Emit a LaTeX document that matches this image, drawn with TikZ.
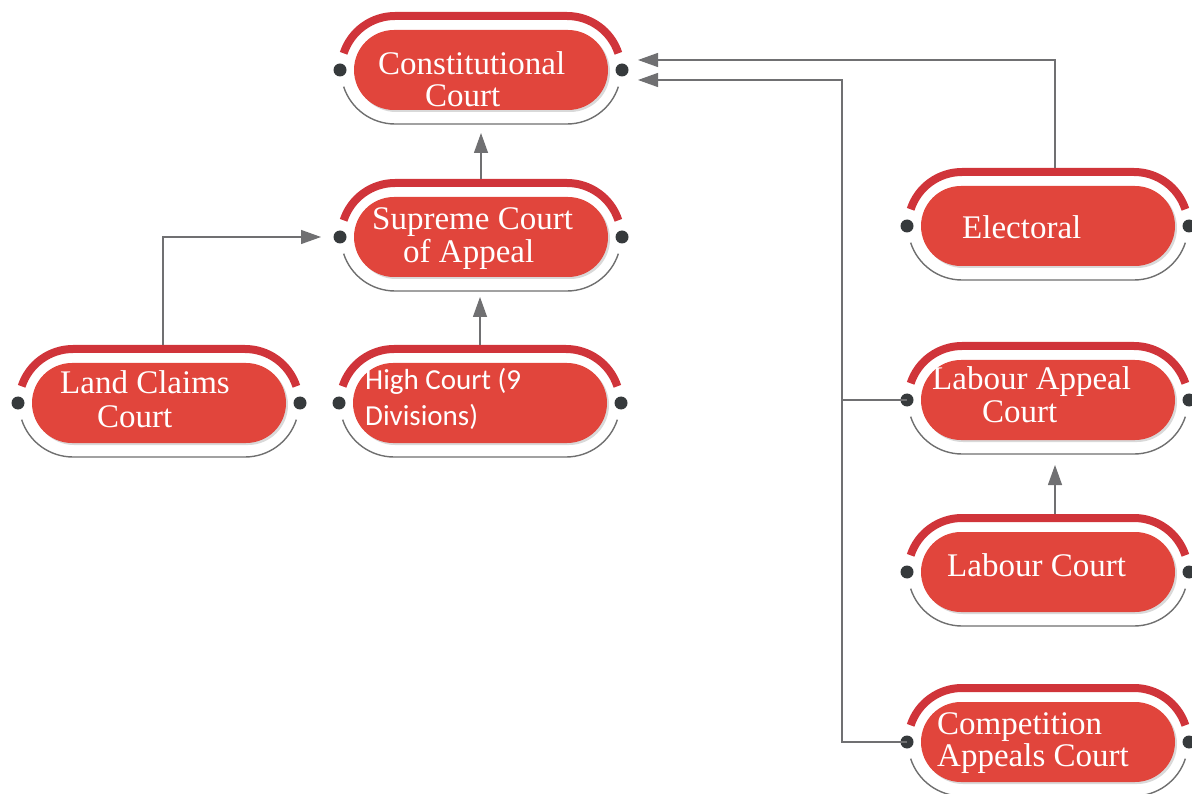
\documentclass[tikz,border=0pt]{standalone}
\usepackage{fontspec}
\setmainfont{Liberation Serif}
\newfontfamily\calib{Carlito}
\usetikzlibrary{arrows.meta,shapes.misc}
\definecolor{bandred}{HTML}{D0343A}
\definecolor{pillred}{HTML}{E1453C}
\definecolor{dotgray}{HTML}{363A3C}
\definecolor{rimgray}{HTML}{6F6F6F}
\definecolor{linegray}{HTML}{707072}
\tikzset{
 band/.style={draw=bandred, line width=8pt},
 rim/.style={draw=rimgray, line width=1.4pt},
 pill/.style={rounded rectangle, fill=pillred, minimum width=254pt, minimum height=80pt, inner sep=0pt, draw=none},
 pillshadow/.style={rounded rectangle, fill=black!15, minimum width=254pt, minimum height=80pt, inner sep=0pt, draw=none},
 conn/.style={draw=linegray, line width=1.3pt},
 arr/.style={conn, -{Triangle[length=20pt,width=14pt]}},
 lbl/.style={text=white, font=\fontsize{33}{33}\selectfont, inner sep=0pt, anchor=base west},
 lblsans/.style={lbl, font=\calib\fontsize{29}{29}\selectfont},
}
\newcommand\courtbox[3]{%
 \begin{scope}[shift={(#2,-#3)}]
  \draw[band] (-86,0) ++(162:54) arc[start angle=162,end angle=90,radius=54] -- (86,54) arc[start angle=90,end angle=18,radius=54];
  \draw[rim] (-86,0) ++(198:54) arc[start angle=198,end angle=270,radius=54] -- (86,-54) arc[start angle=270,end angle=342,radius=54];
  \node[pillshadow] (#1-sh) at (2,-2) {};
  \node[pill] (#1) at (0,0) {};
  \fill[dotgray] (-141,0) circle[radius=6.5];
  \fill[dotgray] (141,0) circle[radius=6.5];
  \coordinate (#1-n) at (0,58);
  \coordinate (#1-s) at (0,-54);
  \coordinate (#1-w) at (-141,0);
  \coordinate (#1-e) at (141,0);
 \end{scope}}
\begin{document}
\begin{tikzpicture}[x=1pt,y=1pt]
\useasboundingbox (0,0) rectangle (1192,-794);
\clip (0,0) rectangle (1192,-794);

\courtbox{con}{481}{70}
\courtbox{sup}{481}{237}
\courtbox{land}{159}{403}
\courtbox{high}{480}{403}
\courtbox{elec}{1048}{226}
\courtbox{la}{1048}{400}
\courtbox{lab}{1048}{572}
\courtbox{comp}{1048}{742}

\node[lbl] (con-t1) at (378,-75) {Constitutional};
\node[lbl] (con-t2) at (425,-107) {Court};
\node[lbl] (sup-t1) at (372,-230) {Supreme Court};
\node[lbl] (sup-t2) at (403,-263) {of Appeal};
\node[lbl] (land-t1) at (60,-394) {Land Claims};
\node[lbl] (land-t2) at (97,-427) {Court};
\node[lblsans] (high-t1) at (365,-390) {High Court (9};
\node[lblsans] (high-t2) at (365,-425) {Divisions)};
\node[lbl] (elec-t1) at (962,-239) {Electoral};
\node[lbl] (la-t1) at (932,-390) {Labour Appeal};
\node[lbl] (la-t2) at (982,-422) {Court};
\node[lbl] (lab-t1) at (947,-576) {Labour Court};
\node[lbl] (comp-t1) at (937,-734) {Competition};
\node[lbl] (comp-t2) at (937,-766) {Appeals Court};

\draw[arr] (sup-n) -- ([yshift=-9]con-s);
\draw[arr] (high-n) -- ([yshift=-6]sup-s -| high-n);
\draw[arr] ([xshift=4]land-n) |- ([xshift=-19]sup-w);
\draw[arr] ([xshift=7]elec-n) |- ([xshift=16,yshift=10]con-e);
\draw[arr] (comp-w) -- ++(-65,0) coordinate (trunk) |- ([xshift=16,yshift=-10]con-e);
\draw[conn] (la-w) -- (la-w -| trunk);
\coordinate (labx) at ([xshift=7]lab-n);
\draw[arr] (labx) -- ([yshift=-11]la-s -| labx);
\end{tikzpicture}
\end{document}
